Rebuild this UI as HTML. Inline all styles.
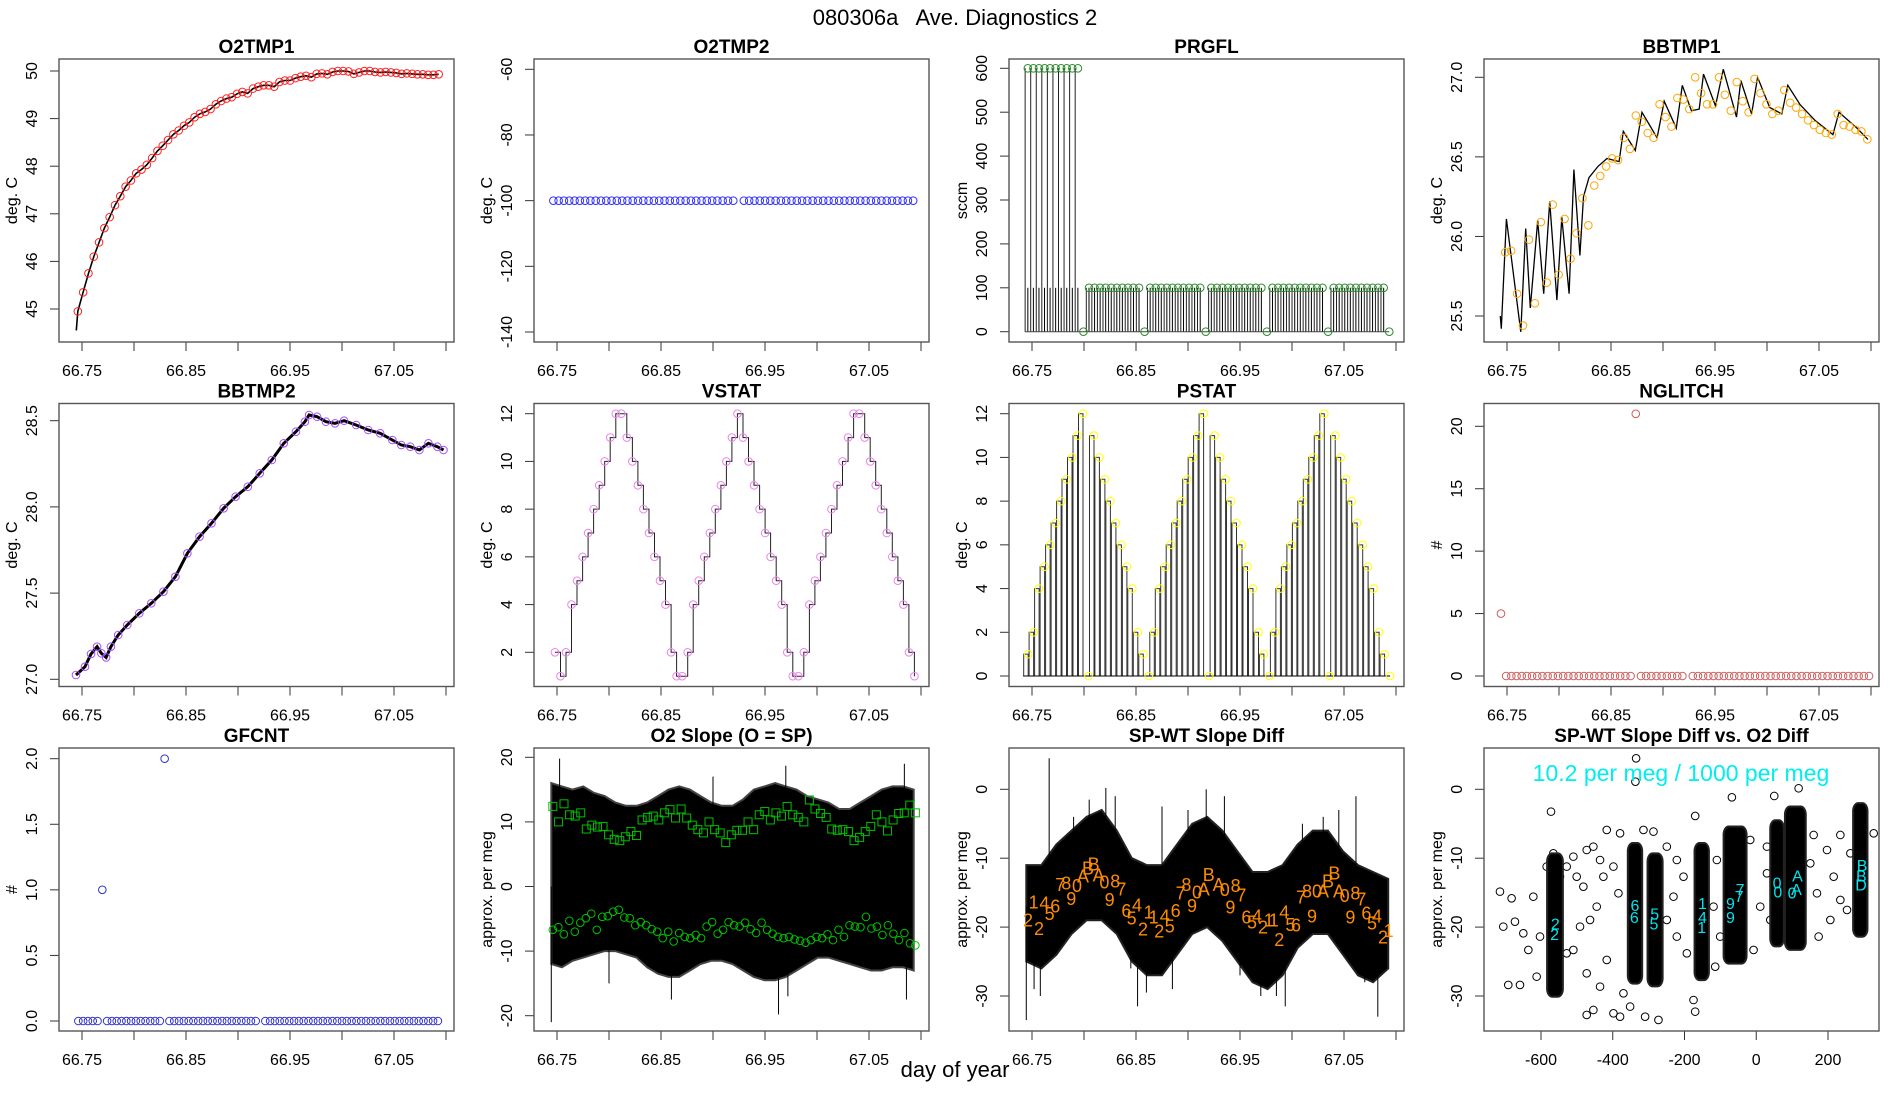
<!DOCTYPE html>
<html><head><meta charset="utf-8">
<style>
html,body{margin:0;padding:0;background:#fff;}
svg{display:block;font-family:"Liberation Sans",sans-serif;}
</style></head>
<body>
<svg id="chart" width="1900" height="1100" viewBox="0 0 1900 1100">
<rect x="0" y="0" width="1900" height="1100" fill="#fff"/>
<text x="955" y="25" text-anchor="middle" font-size="22" fill="#000" style="white-space:pre">080306a   Ave. Diagnostics 2</text>
<text x="955" y="1077" text-anchor="middle" font-size="22" fill="#000">day of year</text>
</svg>
<script>
// ---------------- data ----------------
const o2tmp1Start = [66.7445, 44.55];
const o2tmp1Values = [44.95,45.35,45.75,46.1,46.4,46.7,46.93,47.18,47.37,47.57,
47.7,47.85,47.93,48.03,48.17,48.32,48.43,48.55,48.67,48.75,
48.85,48.92,49.03,49.1,49.14,49.2,49.3,49.37,49.42,49.45,
49.52,49.56,49.53,49.63,49.67,49.7,49.7,49.67,49.77,49.8,
49.8,49.85,49.88,49.9,49.87,49.94,49.95,49.93,49.98,50.0,
50.0,49.99,49.94,49.97,50.0,50.0,49.98,49.97,49.98,49.97,
49.96,49.94,49.95,49.94,49.93,49.93,49.92,49.92,49.93];
const o2tmp2Values = [-100,-100,-100,-100,-100,-100,-100,-100,-100,-100,
-100,-100,-100,-100,-100,-100,-100,-100,-100,-100,
-100,-100,-100,-100,-100,-100,-100,-100,-100,-100,
-100,-100,-100,-100,-100,null,-100,-100,-100,-100,
-100,-100,-100,-100,-100,-100,-100,-100,-100,-100,
-100,-100,-100,-100,-100,-100,-100,-100,-100,-100,
-100,-100,-100,-100,-100,-100,-100,-100,-100];
const prgflValues = [600,600,600,600,600,600,600,600,600,600,
0,100,100,100,100,100,100,100,100,100,100,
0,100,100,100,100,100,100,100,100,100,100,
0,100,100,100,100,100,100,100,100,100,100,
0,100,100,100,100,100,100,100,100,100,100,
0,100,100,100,100,100,100,100,100,100,100,0];
const bbtmp1LineT = [66.7436,66.7445,66.7494,66.7633,66.768,66.7724,66.7795,66.7853,66.7911,66.798,66.8027,66.8097,66.8143,66.8201,66.8236,66.8288,66.8375,66.8462,66.8578,66.8618,66.8734,66.8798,66.8943,66.9012,66.9128,66.9186,66.9273,66.9348,66.9389,66.9505,66.958,66.9707,66.9748,66.9852,66.991,67.0026,67.0142,67.02,67.0316,67.0461,67.0634,67.0692,67.0866,67.097];
const bbtmp1LineV = [25.5,25.42,26.11,25.40,26.05,25.55,26.10,25.64,26.22,25.60,26.12,25.64,26.42,25.88,26.25,26.37,26.44,26.49,26.47,26.66,26.54,26.78,26.62,26.85,26.68,26.95,26.79,26.80,27.02,26.82,27.05,26.75,26.98,26.77,27.00,26.81,26.77,26.95,26.83,26.73,26.64,26.78,26.68,26.61];
const bbtmp1Marks = [25.90,25.91,25.64,25.44,25.98,25.58,26.09,25.71,26.20,25.76,26.11,25.86,26.02,26.24,26.07,26.32,26.38,26.44,26.49,26.48,26.62,26.55,26.76,26.72,26.65,26.62,26.83,26.75,26.69,26.87,26.86,26.80,27.0,26.90,26.83,26.83,27.0,26.89,26.79,26.97,26.85,26.78,26.99,26.90,26.83,26.77,26.79,26.92,26.84,26.81,26.77,26.73,26.70,26.67,26.65,26.64,26.77,26.70,26.69,26.67,26.66,26.61];
const bbtmp2T = [66.7442,66.7529,66.7587,66.7645,66.7686,66.7732,66.7778,66.7848,66.7935,66.8051,66.8166,66.8283,66.8398,66.8513,66.863,66.8745,66.8862,66.8977,66.9094,66.9209,66.9325,66.944,66.9557,66.9643,66.9684,66.976,66.9846,66.9933,67.002,67.0136,67.0252,67.0367,67.0484,67.057,67.0657,67.0744,67.0831,67.0917,67.0976];
const bbtmp2V = [27.025,27.073,27.147,27.189,27.151,27.127,27.189,27.257,27.315,27.383,27.441,27.508,27.595,27.731,27.827,27.905,27.992,28.059,28.117,28.195,28.272,28.369,28.436,28.494,28.533,28.523,28.494,28.485,28.5,28.475,28.446,28.427,28.388,28.359,28.349,28.33,28.369,28.349,28.33];
const vstatValues = [2,1,2,4,5,6,7,8,9,10,11,12,12,11,10,9,8,7,6,5,4,2,1,1,2,4,5,6,7,8,9,10,11,12,11,10,9,8,7,6,5,4,2,1,1,2,4,5,6,7,8,9,10,11,12,12,11,10,9,8,7,6,5,4,2,1];
const pstatValues = [1,2,4,5,6,7,8,9,10,11,12,0,11,10,9,8,7,6,5,4,2,1,0,2,4,5,6,7,8,9,10,11,12,0,11,10,9,8,7,6,5,4,2,1,0,2,4,5,6,7,8,9,10,11,12,0,11,10,9,8,7,6,5,4,2,1,0];
const nglitchValues = [5,0,0,0,0,0,0,0,0,0,0,0,0,0,0,0,0,0,0,0,0,0,0,0,0,0,21,0,0,0,0,0,0,0,0,0,null,0,0,0,0,0,0,0,0,0,0,0,0,0,0,0,0,0,0,0,0,0,0,0,0,0,0,0,0,0,0,0,0,0,0,0];
const gfcntValues = [0,0,0,0,0,1,0,0,0,0,0,0,0,0,0,0,0,0,2,0,0,0,0,0,0,0,0,0,0,0,0,0,0,0,0,0,0,0,null,0,0,0,0,0,0,0,0,0,0,0,0,0,0,0,0,0,0,0,0,0,0,0,0,0,0,0,0,0,0,0,0,0,0,0,0,0];
const o2SlopeUpper = [16,15.5,15,15.5,14.5,14,13,12.5,12.5,13,14,15,15.5,15,14,13,12.5,12.5,13.5,15,15.5,16,15.5,15,14,13.5,13,12,12,13,14,15,15.5,15.5,15];
const o2SlopeLower = [-12,-12.5,-11.5,-11,-10.5,-10,-10,-10.5,-11,-12.5,-13.5,-14,-14,-13,-12,-11.5,-11.5,-12,-13,-14,-14.5,-14.5,-14,-13,-12,-11,-11,-11.5,-12,-12.5,-13,-13,-12.5,-12.5,-13];
const o2SlopeSpikeT = [66.7445,66.7525,66.86,66.963,66.972,67.086,67.084,66.97,66.80,66.90];
const o2SlopeSpikeV = [-21,19.8,-17.5,-19.8,-17,-17.5,19,18.7,-15,17];
const o2SquareValues = [12.4,10.0,12.8,11.1,10.9,11.4,8.9,9.5,9.2,9.3,8.0,7.3,7.1,7.7,8.5,7.9,10.3,10.7,10.9,10.3,11.4,11.9,10.6,12.0,10.6,9.5,8.8,8.3,10.0,8.8,8.3,6.8,8.0,8.7,8.7,10.0,8.8,11.1,11.6,10.3,11.4,10.9,12.4,11.1,10.7,10.0,13.4,12.0,11.3,10.7,8.9,8.7,8.8,8.5,7.1,7.6,8.5,9.3,11.1,10.0,8.6,10.3,11.3,11.4,12.6,11.4];
const o2CircleValues = [-6.7,-6.3,-7.4,-5.3,-7.0,-5.6,-4.9,-4.2,-6.7,-4.7,-4.6,-3.9,-3.6,-4.8,-4.9,-6.0,-5.5,-6.0,-6.6,-7.0,-8.0,-7.0,-8.5,-7.2,-7.8,-8.0,-7.5,-8.0,-6.2,-5.5,-7.3,-6.7,-5.5,-6.0,-6.2,-5.6,-6.6,-7.2,-5.6,-6.7,-7.3,-7.8,-8.0,-7.8,-8.2,-8.4,-8.7,-8.3,-7.8,-8.0,-7.4,-8.3,-6.7,-7.8,-6.0,-6.2,-6.3,-4.7,-6.5,-6.2,-7.5,-6.0,-7.3,-8.3,-7.2,-8.8,-9.1];
const spwtUpper = [-11,-11,-8,-6,-4,-3,-6,-10,-11,-11,-8,-5,-4,-6,-9,-12,-12,-11,-8,-6,-6,-9,-11,-12,-13];
const spwtLower = [-25,-26,-24,-21,-19,-19,-21,-25,-27,-27,-24,-21,-20,-22,-25,-28,-29,-27,-23,-21,-21,-24,-27,-28,-26];
const spwtSpikeT = [66.7665,66.7445,66.8515,66.9175,66.9935,67.0825,67.0615,66.821,66.83,66.875,66.97,66.752,66.758,66.79,66.805,66.845,66.86,66.885,66.9,66.935,66.95,66.985,67.01,67.03,67.045,67.07,67.09];
const spwtSpikeV = [4.5,-33.5,-31.5,0,-31.5,-33,-1,0.2,-1,-2.5,-30,-29,-30,-4,-1.5,-26,-29.5,-29,-3,-1,-27,-30,-5,-4,-3,-28,-14];
const spwtLabelChars = ['2','1','2','4','5','6','7','8','9','0','A','B','B','A','0','9','8','7','6','5','4','2','1','1','2','4','5','6','7','8','9','0','A','B','A','0','9','8','7','6','5','4','2','1','1','2','4','5','6','7','8','9','0','A','B','B','A','0','9','8','7','6','5','4','2','1'];
const spwtLabelT = [66.7462,66.7516,66.7567,66.7619,66.767,66.7724,66.7772,66.783,66.7878,66.7933,66.799,66.8038,66.8093,66.8141,66.8196,66.8247,66.8301,66.8359,66.8407,66.8458,66.851,66.8567,66.8622,66.867,66.8724,66.8776,66.8824,66.8881,66.8929,66.8984,66.9038,66.9087,66.9151,66.9199,66.9295,66.9353,66.9407,66.9458,66.9513,66.9561,66.9615,66.9663,66.9721,66.9776,66.9824,66.9878,66.9926,66.9984,67.0038,67.0087,67.0144,67.0192,67.024,67.0298,67.0346,67.0407,67.0452,67.0506,67.0561,67.0609,67.0667,67.0715,67.0769,67.0817,67.0875,67.0929];
const spwtLabelV = [-19.06,-16.45,-20.27,-16.55,-18.09,-17.03,-13.88,-13.64,-15.92,-14.03,-12.68,-11.47,-10.89,-12.53,-13.55,-16.06,-13.4,-14.51,-17.66,-18.72,-16.88,-20.32,-17.9,-18.58,-20.66,-18.48,-19.93,-17.66,-15.09,-13.88,-16.93,-15.0,-14.51,-12.43,-13.88,-14.61,-17.13,-14.03,-15.43,-18.63,-19.35,-18.48,-20.08,-19.06,-19.06,-21.87,-17.9,-19.69,-19.74,-15.72,-14.85,-18.48,-14.85,-14.85,-13.4,-12.19,-14.85,-15.48,-18.58,-15.09,-15.97,-18.0,-19.45,-18.48,-21.48,-20.56];
const clusterX = [-561,-338,-282,-152,-59,58,109,290];
const clusterHalf = [22,20,21,20,32,19,29,20];
const clusterTop = [-9.3,-7.8,-9.3,-7.8,-5.4,-4.5,-2.5,-2.0];
const clusterBottom = [-30.1,-28.2,-28.6,-27.7,-25.3,-22.8,-23.3,-21.4];
const scatterX = [-572.1,-334.9,-336.8,-67.9,-170.2,50.2,118.1,-714.4,-681.9,-705.1,-672.6,-649.3,-635.3,-612.1,-691.2,-658.6,-602.8,-584.2,-528.4,-509.8,-500.5,-481.9,-472.6,-454.0,-435.4,-416.7,-398.1,-379.6,-384.2,-426.1,-444.7,-463.3,-491.2,-509.8,-528.4,-472.6,-435.4,-454.0,-472.6,-398.1,-379.6,-351.6,-309.8,-272.6,-314.4,-286.5,-249.3,-221.4,-202.8,-230.7,-249.3,-221.4,-193.5,-174.9,-170.2,-109.8,-119.1,-100.5,-114.4,-7.5,-16.8,29.8,29.8,11.1,39.1,76.3,150.7,169.3,197.2,215.8,234.4,173.9,262.3,253.0,206.5,160.0,234.4,327.4,-621.4,-565.6,-547.0,-416.7,-370.2,-342.3];
const scatterY = [-3.24,4.5,1.11,-1.16,-3.87,-0.97,0.15,-14.85,-15.82,-19.93,-19.21,-20.9,-23.32,-27.19,-28.4,-28.4,-21.38,-11.22,-11.22,-9.77,-12.68,-14.13,-8.81,-8.32,-10.26,-5.9,-11.22,-6.39,-15.09,-12.68,-17.03,-18.96,-19.93,-23.32,-23.8,-26.71,-28.64,-32.03,-32.75,-32.51,-33.0,-31.54,-33.0,-33.48,-5.9,-6.14,-8.32,-10.26,-12.68,-15.58,-18.96,-21.38,-23.8,-30.58,-32.27,-10.26,-17.03,-21.38,-25.74,-23.32,-7.35,-8.32,-12.19,-17.03,-18.96,-10.74,-10.74,-15.09,-8.81,-12.68,-16.06,-21.38,-9.29,-17.51,-18.96,-6.63,-6.63,-6.39,-15.58,-9.29,-12.68,-24.77,-29.61,-27.19];
const cyanChars = ['2','2','6','6','5','5','1','4','1','9','9','7','7','0','0','A','A','0','B','B','D'];
const cyanX = [-560,-562,-338,-340,-283,-285,-150,-150,-152,-72,-72,-45,-48,58,60,115,112,100,295,293,292];
const cyanY = [-19.5,-21,-16.8,-18.5,-18,-19.5,-16.5,-18.5,-20,-16.5,-18.5,-14.5,-15.5,-13.5,-14.8,-12.5,-14.5,-15,-11,-12.5,-13.8];
const DAY_TICKS = [66.75,66.80,66.85,66.90,66.95,67.00,67.05,67.10];
const DAY_LABELS = ['66.75','','66.85','','66.95','','67.05',''];

// ---------------- helpers ----------------
const svg = document.getElementById('chart');
const NS = svg.namespaceURI;
function el(tag, attrs, parent){
  const e = document.createElementNS(NS, tag);
  for (const k in attrs) e.setAttribute(k, attrs[k]);
  (parent || svg).appendChild(e);
  return e;
}
function lin(a1,p1,a2,p2){ return v => p1 + (v - a1) * (p2 - p1) / (a2 - a1); }
function sampleTimes(n,t0,t1){ const r=[]; for(let i=0;i<n;i++) r.push(t0 + i*(t1-t0)/(n-1)); return r; }
const COLX=[59,534,1009,1484], ROWY=[59,403.5,748], PW=395, PH=283;
let clipId=0;

function axes(p){
  const x0=COLX[p.col], y0=ROWY[p.row];
  const sx = p.sx || lin(66.75, x0+23, 67.05, x0+335);
  const sy = p.sy;
  const g = el('g', {});
  
  
  const t = el('text', {x:x0+PW/2, y:y0-6, 'text-anchor':'middle', 'font-size':19, 'font-weight':'bold'}, g);
  t.textContent = p.title;
  
  
  const yl = el('text', {x:0, y:0, 'text-anchor':'middle', 'font-size':16, transform:`translate(${x0-42},${y0+PH/2}) rotate(-90)`}, g);
  yl.textContent = p.ylab;
  
  
  const xt = p.xt || DAY_TICKS, xlab = p.xl || DAY_LABELS;
  xt.forEach((v,i)=>{
    const X = sx(v);
    const tk = el('line', {x1:X, x2:X, y1:y0+PH, y2:y0+PH+9, stroke:'#333', 'stroke-width':1}, g);
    
    
    if (xlab[i]) {
      const lb = el('text', {x:X, y:y0+PH+34, 'text-anchor':'middle', 'font-size':16}, g);
      lb.textContent = xlab[i];
      
      
    }
  });
  p.yt.forEach((v,i)=>{
    const Y = sy(v);
    const tk = el('line', {x1:x0-9, x2:x0, y1:Y, y2:Y, stroke:'#333', 'stroke-width':1}, g);
    
    
    const lb = el('text', {x:0, y:0, 'text-anchor':'middle', 'font-size':16, transform:`translate(${x0-22},${Y}) rotate(-90)`}, g);
    lb.textContent = p.yl[i];
    
    
  });
  const id = 'clip' + (clipId++);
  const cp = el('clipPath', {id:id}, g);
  
  
  const cr = el('rect', {x:x0, y:y0, width:PW, height:PH}, cp);
  
  
  const plot = el('g', {'clip-path':`url(#${id})`}, g);
  
  
  const box = el('rect', {x:x0, y:y0, width:PW, height:PH, fill:'none', stroke:'#555', 'stroke-width':1.4}, g);
  
  
  return {plot, sx, sy};
}
function circle(parent, x, y, color, name){
  const c = el('circle', {cx:x, cy:y, r:3.8, fill:'none', stroke:color, 'stroke-width':1}, parent);
  
  
  return c;
}
function polyline(parent, pts, attrs, name){
  const pl = el('polyline', Object.assign({points:pts.map(p=>p[0].toFixed(1)+','+p[1].toFixed(1)).join(' '), fill:'none'}, attrs), parent);
  
  
  return pl;
}

// ---------- Panel 1: O2TMP1 ----------
(function(){
  const a = axes({col:0,row:0,key:'o2tmp1',title:'O2TMP1',ylab:'deg. C',sy:lin(50,71,45,309),yt:[45,46,47,48,49,50],yl:['45','46','47','48','49','50']});
  const ts = sampleTimes(o2tmp1Values.length, 66.746, 67.093);
  const pts = [[a.sx(o2tmp1Start[0]), a.sy(o2tmp1Start[1])]].concat(ts.map((t,i)=>[a.sx(t), a.sy(o2tmp1Values[i])]));
  polyline(a.plot, pts, {stroke:'#000','stroke-width':1.6}, 'o2tmp1-line');
  ts.forEach((t,i)=>circle(a.plot, a.sx(t), a.sy(o2tmp1Values[i]), '#ff2020', 'o2tmp1-point'));
})();

// ---------- Panel 2: O2TMP2 ----------
(function(){
  const a = axes({col:1,row:0,key:'o2tmp2',title:'O2TMP2',ylab:'deg. C',sy:lin(-60,69.3,-140,332),yt:[-140,-120,-100,-80,-60],yl:['-140','-120','-100','-80','-60']});
  const ts = sampleTimes(o2tmp2Values.length, 66.7465, 67.0925);
  ts.forEach((t,i)=>{ if(o2tmp2Values[i]!==null) circle(a.plot, a.sx(t), a.sy(o2tmp2Values[i]), '#3030ff', 'o2tmp2-point'); });
})();

// ---------- Panel 3: PRGFL ----------
(function(){
  const a = axes({col:2,row:0,key:'prgfl',title:'PRGFL',ylab:'sccm',sy:lin(600,68.3,0,331.7),yt:[0,100,200,300,400,500,600],yl:['0','100','200','300','400','500','600']});
  const ts = sampleTimes(prgflValues.length, 66.746, 67.0935);
  const y0 = a.sy(0);
  ts.forEach((t,i)=>{
    const X = a.sx(t), v = prgflValues[i];
    if (v > 0) {
      const l1 = el('line', {x1:X-2.7, x2:X-2.7, y1:y0, y2:a.sy(v), stroke:'#222', 'stroke-width':1}, a.plot);
      
      
      const l2 = el('line', {x1:X, x2:X, y1:y0, y2:a.sy(Math.min(v,100)), stroke:'#000', 'stroke-width':1}, a.plot);
      
      
    }
  });
  const base = el('line', {x1:a.sx(ts[0])-3, x2:a.sx(ts[ts.length-1]), y1:y0, y2:y0, stroke:'#444', 'stroke-width':1}, a.plot);
  
  
  ts.forEach((t,i)=>circle(a.plot, a.sx(t), a.sy(prgflValues[i]), '#2e8b2e', 'prgfl-point'));
})();

// ---------- Panel 4: BBTMP1 ----------
(function(){
  const a = axes({col:3,row:0,key:'bbtmp1',title:'BBTMP1',ylab:'deg. C',sy:lin(27,77.3,25.5,316),yt:[25.5,26,26.5,27],yl:['25.5','26.0','26.5','27.0']});
  polyline(a.plot, bbtmp1LineT.map((t,i)=>[a.sx(t), a.sy(bbtmp1LineV[i])]), {stroke:'#000','stroke-width':1.3}, 'bbtmp1-line');
  const ts = sampleTimes(bbtmp1Marks.length, 66.7483, 67.0965);
  ts.forEach((t,i)=>circle(a.plot, a.sx(t), a.sy(bbtmp1Marks[i]), '#ffa500', 'bbtmp1-point'));
})();

// ---------- Panel 5: BBTMP2 ----------
(function(){
  const a = axes({col:0,row:1,key:'bbtmp2',title:'BBTMP2',ylab:'deg. C',sy:lin(28.5,420.7,27,679.3),yt:[27,27.5,28,28.5],yl:['27.0','27.5','28.0','28.5']});
  polyline(a.plot, bbtmp2T.map((t,i)=>[a.sx(t), a.sy(bbtmp2V[i])]), {stroke:'#000','stroke-width':3}, 'bbtmp2-line');
  bbtmp2T.forEach((t,i)=>circle(a.plot, a.sx(t), a.sy(bbtmp2V[i]), '#a64dff', 'bbtmp2-point'));
})();

// ---------- Panel 6: VSTAT ----------
(function(){
  const a = axes({col:1,row:1,key:'vstat',title:'VSTAT',ylab:'deg. C',sy:lin(12,413.7,2,652.3),yt:[2,4,6,8,10,12],yl:['2','4','6','8','10','12']});
  const ts = sampleTimes(vstatValues.length, 66.748, 67.0937);
  let d = `M${a.sx(ts[0]).toFixed(1)},${a.sy(vstatValues[0]).toFixed(1)}`;
  for (let i=1;i<ts.length;i++) d += ` H${a.sx(ts[i]).toFixed(1)} V${a.sy(vstatValues[i]).toFixed(1)}`;
  const p = el('path', {d:d, fill:'none', stroke:'#222', 'stroke-width':1}, a.plot);
  
  
  ts.forEach((t,i)=>circle(a.plot, a.sx(t), a.sy(vstatValues[i]), '#ee82ee', 'vstat-point'));
})();

// ---------- Panel 7: PSTAT ----------
(function(){
  const a = axes({col:2,row:1,key:'pstat',title:'PSTAT',ylab:'deg. C',sy:lin(12,413.7,0,676),yt:[0,2,4,6,8,10,12],yl:['0','2','4','6','8','10','12']});
  const ts = sampleTimes(pstatValues.length, 66.7463, 67.0943);
  const y0 = a.sy(0);
  ts.forEach((t,i)=>{
    const X = a.sx(t), Y = a.sy(pstatValues[i]);
    const b = el('path', {d:`M${(X-4.5).toFixed(1)},${y0} V${Y.toFixed(1)} H${X.toFixed(1)} V${y0}`, fill:'none', stroke:'#333', 'stroke-width':1}, a.plot);
    
    
  });
  const base = el('line', {x1:a.sx(ts[0])-5, x2:a.sx(ts[ts.length-1]), y1:y0, y2:y0, stroke:'#000', 'stroke-width':1}, a.plot);
  
  
  ts.forEach((t,i)=>circle(a.plot, a.sx(t), a.sy(pstatValues[i]), '#ffff00', 'pstat-point'));
})();

// ---------- Panel 8: NGLITCH ----------
(function(){
  const a = axes({col:3,row:1,key:'nglitch',title:'NGLITCH',ylab:'#',sy:lin(20,426.3,0,676),yt:[0,5,10,15,20],yl:['0','5','10','15','20']});
  const ts = sampleTimes(nglitchValues.length, 66.7442, 67.0981);
  ts.forEach((t,i)=>{ if(nglitchValues[i]!==null) circle(a.plot, a.sx(t), a.sy(nglitchValues[i]), '#cd5c5c', 'nglitch-point'); });
})();

// ---------- Panel 9: GFCNT ----------
(function(){
  const a = axes({col:0,row:2,key:'gfcnt',title:'GFCNT',ylab:'#',sy:lin(2,758.7,0,1021),yt:[0,0.5,1,1.5,2],yl:['0.0','0.5','1.0','1.5','2.0']});
  const ts = sampleTimes(gfcntValues.length, 66.7465, 67.0922);
  ts.forEach((t,i)=>{ if(gfcntValues[i]!==null) circle(a.plot, a.sx(t), a.sy(gfcntValues[i]), '#3333cc', 'gfcnt-point'); });
})();

// ---------- Panel 10: O2 Slope ----------
(function(){
  const a = axes({col:1,row:2,key:'o2-slope',title:'O2 Slope (O = SP)',ylab:'approx. per meg',sy:lin(20,757.3,-20,1015.7),yt:[-20,-10,0,10,20],yl:['-20','-10','0','10','20']});
  const ts = sampleTimes(o2SlopeUpper.length, 66.7445, 67.093);
  const pts = ts.map((t,i)=>[a.sx(t), a.sy(o2SlopeUpper[i])]).concat(ts.slice().reverse().map((t,j)=>[a.sx(t), a.sy(o2SlopeLower[ts.length-1-j])]));
  const band = el('polygon', {points:pts.map(p=>p[0].toFixed(1)+','+p[1].toFixed(1)).join(' '), fill:'#000', stroke:'#444', 'stroke-width':2, 'stroke-linejoin':'miter'}, a.plot);
  
  
  o2SlopeSpikeT.forEach((t,i)=>{
    const l = el('line', {x1:a.sx(t), x2:a.sx(t), y1:a.sy(0), y2:a.sy(o2SlopeSpikeV[i]), stroke:'#000', 'stroke-width':1}, a.plot);
    
    
  });
  const tsq = sampleTimes(o2SquareValues.length, 66.746, 67.0946);
  tsq.forEach((t,i)=>{
    const r = el('rect', {x:a.sx(t)-4, y:a.sy(o2SquareValues[i])-4, width:8, height:8, fill:'none', stroke:'#00c000', 'stroke-width':1}, a.plot);
    
    
  });
  const tc = sampleTimes(o2CircleValues.length, 66.746, 67.0946);
  tc.forEach((t,i)=>circle(a.plot, a.sx(t), a.sy(o2CircleValues[i]), '#00c000', 'o2-slope-o-point'));
})();

// ---------- Panel 11: SP-WT Slope Diff ----------
(function(){
  const a = axes({col:2,row:2,key:'spwt-diff',title:'SP-WT Slope Diff',ylab:'approx. per meg',sy:lin(0,789.3,-30,996),yt:[-30,-20,-10,0],yl:['-30','-20','-10','0']});
  const ts = sampleTimes(spwtUpper.length, 66.7445, 67.0925);
  const pts = ts.map((t,i)=>[a.sx(t), a.sy(spwtUpper[i])]).concat(ts.slice().reverse().map((t,j)=>[a.sx(t), a.sy(spwtLower[ts.length-1-j])]));
  const band = el('polygon', {points:pts.map(p=>p[0].toFixed(1)+','+p[1].toFixed(1)).join(' '), fill:'#000', stroke:'#222', 'stroke-width':2, 'stroke-linejoin':'miter'}, a.plot);
  
  
  spwtSpikeT.forEach((t,i)=>{
    const l = el('line', {x1:a.sx(t), x2:a.sx(t), y1:a.sy(-17), y2:a.sy(spwtSpikeV[i]), stroke:'#000', 'stroke-width':1}, a.plot);
    
    
  });
  spwtLabelChars.forEach((c,i)=>{
    const tx = el('text', {x:a.sx(spwtLabelT[i]), y:a.sy(spwtLabelV[i])+6, 'text-anchor':'middle', 'font-size':18, fill:'#ff8c00'}, a.plot);
    tx.textContent = c;
    
    
  });
})();

// ---------- Panel 12: SP-WT vs O2 Diff ----------
(function(){
  const sx = lin(-600,1541,200,1828);
  const a = axes({col:3,row:2,key:'spwt-vs-o2',title:'SP-WT Slope Diff vs. O2 Diff',ylab:'approx. per meg',sx:sx,xt:[-600,-400,-200,0,200],xl:['-600','-400','-200','0','200'],sy:lin(0,789.3,-30,996),yt:[-30,-20,-10,0],yl:['-30','-20','-10','0']});
  scatterX.forEach((x,i)=>circle(a.plot, sx(x), a.sy(scatterY[i]), '#000', 'scatter-point'));
  clusterX.forEach((x,i)=>{
    const xl = sx(x-clusterHalf[i]), xr = sx(x+clusterHalf[i]);
    const r = el('rect', {x:xl, y:a.sy(clusterTop[i]), width:xr-xl, height:a.sy(clusterBottom[i])-a.sy(clusterTop[i]), rx:5, ry:8, fill:'#000', stroke:'#222', 'stroke-width':2}, a.plot);
    
    
  });
  cyanChars.forEach((c,i)=>{
    const tx = el('text', {x:sx(cyanX[i]), y:a.sy(cyanY[i])+6, 'text-anchor':'middle', 'font-size':16, fill:'#00e5ee'}, a.plot);
    tx.textContent = c;
    
    
  });
  const note = el('text', {x:1681, y:781, 'text-anchor':'middle', 'font-size':23, fill:'#00eeee'}, a.plot);
  note.textContent = '10.2 per meg / 1000 per meg';
  
  
})();
</script>
</body></html>
